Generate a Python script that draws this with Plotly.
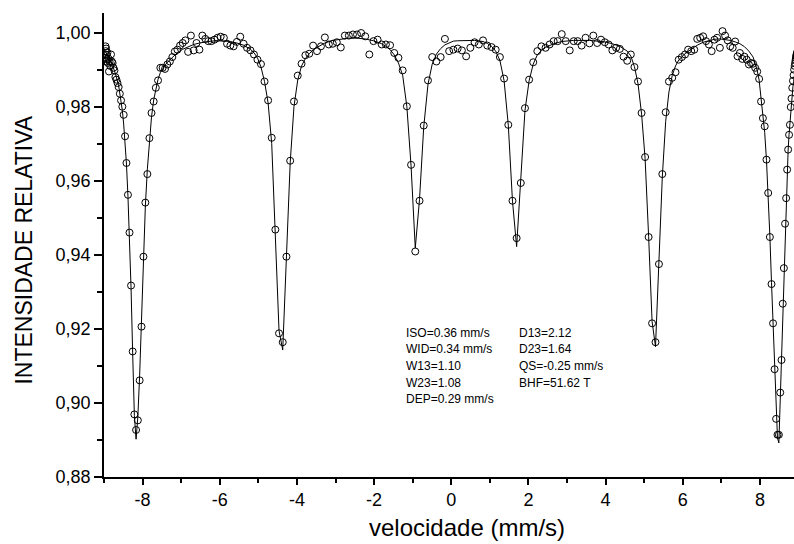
import plotly.graph_objects as go

# ---- data (velocity in mm/s, relative intensity) ----
velocity = [
    -8.960, -8.958, -8.956, -8.951, -8.946, -8.939, -8.931, -8.922, -8.911, -8.899,
    -8.885, -8.871, -8.855, -8.837, -8.818, -8.798, -8.777, -8.754, -8.730, -8.704,
    -8.678, -8.650, -8.620, -8.590, -8.558, -8.525, -8.490, -8.454, -8.418, -8.379,
    -8.339, -8.299, -8.257, -8.213, -8.169, -8.123, -8.076, -8.028, -7.978, -7.928,
    -7.876, -7.823, -7.769, -7.713, -7.657, -7.599, -7.540, -7.480, -7.419, -7.357,
    -7.293, -7.229, -7.164, -7.097, -7.030, -6.961, -6.891, -6.820, -6.748, -6.676,
    -6.602, -6.527, -6.451, -6.374, -6.297, -6.218, -6.138, -6.058, -5.976, -5.894,
    -5.811, -5.726, -5.641, -5.556, -5.469, -5.382, -5.293, -5.204, -5.114, -5.023,
    -4.932, -4.840, -4.747, -4.653, -4.559, -4.464, -4.368, -4.272, -4.175, -4.077,
    -3.979, -3.880, -3.781, -3.681, -3.581, -3.480, -3.378, -3.276, -3.173, -3.070,
    -2.967, -2.863, -2.758, -2.654, -2.548, -2.443, -2.337, -2.230, -2.124, -2.017,
    -1.910, -1.802, -1.694, -1.586, -1.478, -1.369, -1.260, -1.151, -1.042, -0.933,
    -0.823, -0.714, -0.604, -0.494, -0.385, -0.275, -0.165, -0.055,
    0.055, 0.165, 0.275, 0.385, 0.494, 0.604, 0.714, 0.823, 0.933, 1.042,
    1.151, 1.260, 1.369, 1.478, 1.586, 1.694, 1.802, 1.910, 2.017, 2.124,
    2.230, 2.337, 2.443, 2.548, 2.654, 2.758, 2.863, 2.967, 3.070, 3.173,
    3.276, 3.378, 3.480, 3.581, 3.681, 3.781, 3.880, 3.979, 4.077, 4.175,
    4.272, 4.368, 4.464, 4.559, 4.653, 4.747, 4.840, 4.932, 5.023, 5.114,
    5.204, 5.293, 5.382, 5.469, 5.556, 5.641, 5.726, 5.811, 5.894, 5.976,
    6.058, 6.138, 6.218, 6.297, 6.374, 6.451, 6.527, 6.602, 6.676, 6.748,
    6.820, 6.891, 6.961, 7.030, 7.097, 7.164, 7.229, 7.293, 7.357, 7.419,
    7.480, 7.540, 7.599, 7.657, 7.713, 7.769, 7.823, 7.876, 7.928, 7.978,
    8.028, 8.076, 8.123, 8.169, 8.213, 8.257, 8.299, 8.339, 8.379, 8.418,
    8.454, 8.490, 8.525, 8.558, 8.590, 8.620, 8.650, 8.678, 8.704, 8.730,
    8.754, 8.777, 8.798, 8.818, 8.837, 8.855, 8.871, 8.885, 8.899, 8.911,
    8.922, 8.931, 8.939, 8.946, 8.951, 8.956, 8.958, 8.960,
]

intensity = [
    0.9963, 0.9941, 0.9950, 0.9932, 0.9957, 0.9922, 0.9940, 0.9928, 0.9946, 0.9918,
    0.9930, 0.9895, 0.9921, 0.9910, 0.9941, 0.9922, 0.9918, 0.9905, 0.9898, 0.9880,
    0.9873, 0.9864, 0.9853, 0.9835, 0.9817, 0.9800, 0.9778, 0.9720, 0.9648, 0.9562,
    0.9460, 0.9317, 0.9139, 0.8969, 0.8927, 0.8953, 0.9061, 0.9206, 0.9395, 0.9541,
    0.9618, 0.9715, 0.9783, 0.9814, 0.9851, 0.9871, 0.9905, 0.9905, 0.9902, 0.9914,
    0.9922, 0.9934, 0.9949, 0.9954, 0.9965, 0.9972, 0.9979, 0.9948, 0.9992, 0.9952,
    0.9972, 0.9954, 0.9992, 0.9983, 0.9977, 0.9977, 0.9981, 0.9986, 0.9989, 0.9986,
    0.9970, 0.9965, 0.9963, 0.9975, 0.9989, 0.9970, 0.9959, 0.9952, 0.9941, 0.9927,
    0.9915, 0.9868, 0.9817, 0.9716, 0.9468, 0.9188, 0.9164, 0.9395, 0.9654, 0.9814,
    0.9884, 0.9916, 0.9939, 0.9943, 0.9965, 0.9950, 0.9963, 0.9987, 0.9968, 0.9970,
    0.9974, 0.9960, 0.9992, 0.9992, 0.9995, 0.9995, 0.9999, 0.9990, 0.9941, 0.9977,
    0.9981, 0.9968, 0.9968, 0.9966, 0.9945, 0.9932, 0.9898, 0.9801, 0.9643, 0.9409,
    0.9546, 0.9749, 0.9871, 0.9934, 0.9922, 0.9934, 0.9983, 0.9950,
    0.9954, 0.9957, 0.9952, 0.9936, 0.9959, 0.9974, 0.9968, 0.9979, 0.9965, 0.9961,
    0.9954, 0.9934, 0.9876, 0.9751, 0.9546, 0.9445, 0.9594, 0.9796, 0.9873, 0.9920,
    0.9950, 0.9963, 0.9959, 0.9968, 0.9977, 0.9977, 0.9996, 0.9977, 0.9952, 0.9977,
    0.9977, 0.9965, 0.9986, 0.9971, 0.9992, 0.9972, 0.9981, 0.9974, 0.9968, 0.9952,
    0.9959, 0.9956, 0.9935, 0.9924, 0.9941, 0.9907, 0.9868, 0.9783, 0.9664, 0.9448,
    0.9215, 0.9164, 0.9375, 0.9618, 0.9785, 0.9868, 0.9878, 0.9893, 0.9927, 0.9934,
    0.9941, 0.9954, 0.9950, 0.9954, 0.9983, 0.9986, 0.9990, 0.9977, 0.9968, 0.9950,
    0.9981, 0.9986, 0.9959, 1.0004, 0.9992, 0.9979, 0.9963, 0.9959, 0.9976, 0.9936,
    0.9945, 0.9929, 0.9935, 0.9927, 0.9914, 0.9918, 0.9916, 0.9905, 0.9895, 0.9875,
    0.9814, 0.9769, 0.9747, 0.9657, 0.9567, 0.9448, 0.9321, 0.9215, 0.9091, 0.8957,
    0.8914, 0.8914, 0.9028, 0.9116, 0.9268, 0.9364, 0.9484, 0.9553, 0.9630, 0.9684,
    0.9724, 0.9751, 0.9799, 0.9822, 0.9851, 0.9870, 0.9885, 0.9900, 0.9910, 0.9918,
    0.9925, 0.9931, 0.9936, 0.9940, 0.9938, 0.9944, 0.9941, 0.9946,
]

# fitted curve
fit_velocity = [
    -8.960, -8.899, -8.837, -8.777, -8.730, -8.678, -8.620, -8.590, -8.558, -8.525,
    -8.490, -8.454, -8.418, -8.379, -8.339, -8.299, -8.257, -8.213, -8.169, -8.123,
    -8.076, -8.028, -7.978, -7.928, -7.876, -7.823, -7.769, -7.713, -7.657, -7.599,
    -7.540, -7.480, -7.419, -7.357, -7.293, -7.229, -7.164, -7.097, -6.961, -6.820,
    -6.676, -6.527, -6.374, -6.218, -6.058, -5.894, -5.726, -5.556, -5.382, -5.204,
    -5.114, -5.023, -4.932, -4.840, -4.747, -4.653, -4.559, -4.464, -4.368, -4.272,
    -4.175, -4.077, -3.979, -3.880, -3.781, -3.681, -3.581, -3.480, -3.276, -3.070,
    -2.863, -2.654, -2.443, -2.230, -2.017, -1.802, -1.694, -1.586, -1.478, -1.369,
    -1.260, -1.151, -1.042, -0.933, -0.823, -0.714, -0.604, -0.494, -0.385, -0.275,
    -0.165, -0.055, 0.055, 0.165, 0.385, 0.604, 0.823, 0.933, 1.042, 1.151,
    1.260, 1.369, 1.478, 1.586, 1.694, 1.802, 1.910, 2.017, 2.124, 2.230,
    2.337, 2.443, 2.654, 2.863, 3.173, 3.581, 3.979, 4.175, 4.368, 4.559,
    4.653, 4.747, 4.840, 4.932, 5.023, 5.114, 5.204, 5.293, 5.382, 5.469,
    5.556, 5.641, 5.726, 5.811, 5.894, 5.976, 6.058, 6.218, 6.374, 6.527,
    6.676, 6.820, 6.961, 7.097, 7.229, 7.357, 7.480, 7.599, 7.713, 7.823,
    7.876, 7.928, 7.978, 8.028, 8.076, 8.123, 8.169, 8.213, 8.257, 8.299,
    8.339, 8.379, 8.418, 8.454, 8.490, 8.525, 8.558, 8.590, 8.620, 8.650,
    8.678, 8.704, 8.730, 8.754, 8.777, 8.798, 8.818, 8.837, 8.855, 8.871,
    8.885, 8.899, 8.960,
]

fit_intensity = [
    0.9948, 0.9938, 0.9926, 0.9912, 0.9898, 0.9880, 0.9856, 0.9838, 0.9817, 0.9790,
    0.9753, 0.9706, 0.9645, 0.9558, 0.9450, 0.9310, 0.9135, 0.8966, 0.8902, 0.8962,
    0.9075, 0.9220, 0.9392, 0.9532, 0.9632, 0.9712, 0.9772, 0.9818, 0.9850, 0.9874,
    0.9892, 0.9903, 0.9912, 0.9920, 0.9927, 0.9934, 0.9940, 0.9946, 0.9955, 0.9962,
    0.9968, 0.9972, 0.9975, 0.9977, 0.9978, 0.9978, 0.9976, 0.9972, 0.9966, 0.9955,
    0.9946, 0.9932, 0.9907, 0.9868, 0.9810, 0.9700, 0.9470, 0.9195, 0.9143, 0.9390,
    0.9648, 0.9800, 0.9872, 0.9910, 0.9930, 0.9943, 0.9953, 0.9960, 0.9972, 0.9979,
    0.9983, 0.9985, 0.9985, 0.9983, 0.9978, 0.9970, 0.9963, 0.9954, 0.9940, 0.9918,
    0.9885, 0.9800, 0.9640, 0.9418, 0.9550, 0.9745, 0.9860, 0.9915, 0.9942, 0.9957,
    0.9967, 0.9973, 0.9977, 0.9978, 0.9979, 0.9979, 0.9976, 0.9971, 0.9963, 0.9950,
    0.9925, 0.9870, 0.9750, 0.9545, 0.9422, 0.9595, 0.9790, 0.9870, 0.9915, 0.9940,
    0.9952, 0.9960, 0.9970, 0.9976, 0.9979, 0.9979, 0.9975, 0.9970, 0.9963, 0.9950,
    0.9937, 0.9908, 0.9862, 0.9780, 0.9660, 0.9450, 0.9220, 0.9152, 0.9375, 0.9610,
    0.9760, 0.9840, 0.9884, 0.9910, 0.9926, 0.9936, 0.9943, 0.9955, 0.9966, 0.9974,
    0.9979, 0.9982, 0.9983, 0.9982, 0.9979, 0.9975, 0.9970, 0.9962, 0.9950, 0.9934,
    0.9918, 0.9898, 0.9872, 0.9825, 0.9780, 0.9730, 0.9655, 0.9565, 0.9450, 0.9325,
    0.9210, 0.9085, 0.8962, 0.8905, 0.8892, 0.9012, 0.9125, 0.9255, 0.9365, 0.9475,
    0.9555, 0.9625, 0.9683, 0.9725, 0.9760, 0.9790, 0.9815, 0.9838, 0.9855, 0.9868,
    0.9880, 0.9890, 0.9920,
]

x_tick_values = [-8, -6, -4, -2, 0, 2, 4, 6, 8]
x_tick_labels = ["-8", "-6", "-4", "-2", "0", "2", "4", "6", "8"]
x_minor_values = [-9, -7, -5, -3, -1, 1, 3, 5, 7, 9]
y_tick_values = [0.88, 0.90, 0.92, 0.94, 0.96, 0.98, 1.00]
y_tick_labels = ["0,88", "0,90", "0,92", "0,94", "0,96", "0,98", "1,00"]
y_minor_values = [0.89, 0.91, 0.93, 0.95, 0.97, 0.99]

params_left = ["ISO=0.36 mm/s", "WID=0.34 mm/s", "W13=1.10", "W23=1.08", "DEP=0.29 mm/s"]
params_right = ["D13=2.12", "D23=1.64", "QS=-0.25 mm/s", "BHF=51.62 T"]

assert len(velocity) == len(intensity)
assert len(fit_velocity) == len(fit_intensity)

FONT = "Liberation Sans, Arial, sans-serif"

fig = go.Figure()
fig.add_trace(go.Scatter(
    x=fit_velocity, y=fit_intensity, mode="lines",
    line=dict(color="black", width=1), hoverinfo="skip"))
fig.add_trace(go.Scatter(
    x=velocity, y=intensity, mode="markers",
    marker=dict(symbol="circle-open", size=7, color="black", line=dict(width=1, color="black"))))

# parameter block
row_y = [0.9190, 0.9145, 0.9100, 0.9055, 0.9010]
for i, t in enumerate(params_left):
    fig.add_annotation(x=-1.23, y=row_y[i], xref="x", yref="y", text=t, showarrow=False,
                       xanchor="left", yanchor="middle", font=dict(size=12, family=FONT, color="black"))
for i, t in enumerate(params_right):
    fig.add_annotation(x=1.70, y=row_y[i], xref="x", yref="y", text=t, showarrow=False,
                       xanchor="left", yanchor="middle", font=dict(size=12, family=FONT, color="black"))

# axis titles
fig.add_annotation(x=-0.116, y=0.49, xref="paper", yref="paper", text="INTENSIDADE RELATIVA",
                   textangle=-90, showarrow=False, xanchor="center", yanchor="middle",
                   font=dict(size=23, family=FONT, color="black"))
fig.add_annotation(x=0.526, y=-0.108, xref="paper", yref="paper", text="velocidade (mm/s)",
                   showarrow=False, xanchor="center", yanchor="middle",
                   font=dict(size=24, family=FONT, color="black"))

axis_common = dict(showline=True, linecolor="black", linewidth=1.5, showgrid=False,
                   zeroline=False, ticks="outside", tickcolor="black", tickwidth=1.5,
                   tickfont=dict(size=18, family=FONT, color="black"))

fig.update_layout(
    width=794, height=544,
    margin=dict(l=104, r=0, t=13, b=67),
    paper_bgcolor="white", plot_bgcolor="white",
    showlegend=False,
    font=dict(family=FONT, color="black"),
    xaxis=dict(range=[-9.0, 8.882], tickmode="array", tickvals=x_tick_values,
               ticktext=x_tick_labels, ticklen=6,
               minor=dict(tickmode="array", tickvals=x_minor_values, ticks="outside",
                          ticklen=4, tickwidth=1.5, tickcolor="black", showgrid=False),
               **axis_common),
    yaxis=dict(range=[0.88, 1.0053], tickmode="array", tickvals=y_tick_values,
               ticktext=y_tick_labels, ticklen=8,
               minor=dict(tickmode="array", tickvals=y_minor_values, ticks="outside",
                          ticklen=5, tickwidth=1.5, tickcolor="black", showgrid=False),
               **axis_common),
)

fig.write_html("out.html")
